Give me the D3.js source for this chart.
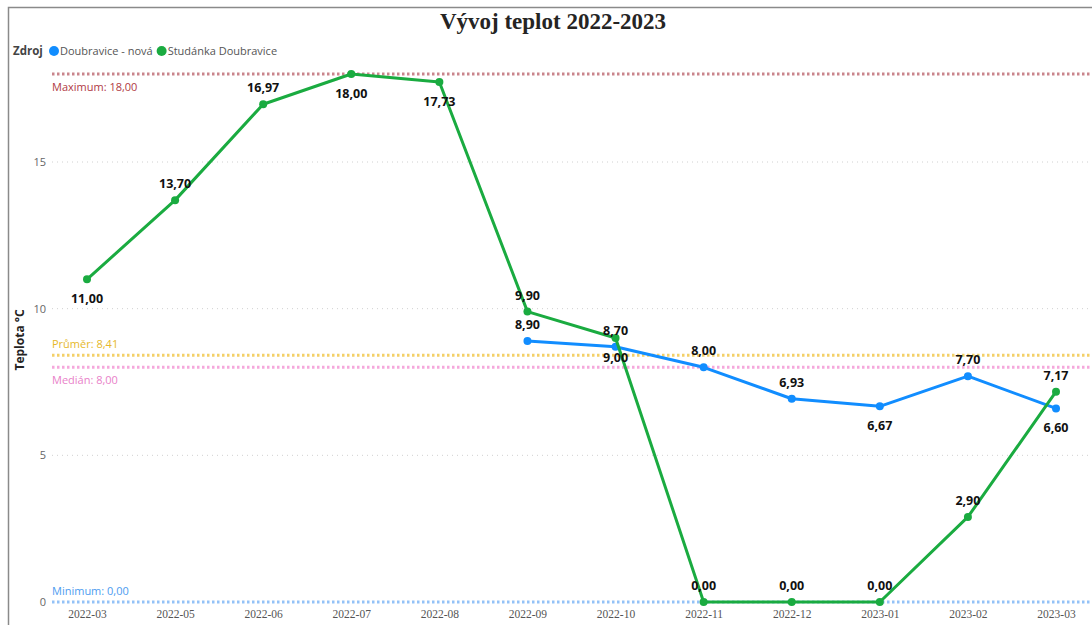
<!DOCTYPE html>
<html>
<head>
<meta charset="utf-8">
<script src="https://cdn.jsdelivr.net/npm/d3@7"></script>
<style>
  body { margin: 0; background: #fff; }
  svg { display: block; }
</style>
</head>
<body>
<div id="chart"></div>
<script>
const width = 1092;
const height = 625;

const months = ['2022-03', '2022-05', '2022-06', '2022-07', '2022-08', '2022-09',
  '2022-10', '2022-11', '2022-12', '2023-01', '2023-02', '2023-03'];

// null = no measurement that month
const doubravice = [null, null, null, null, null, 8.90, 8.70, 8.00, 6.93, 6.67, 7.70, 6.60];
const studanka = [11.00, 13.70, 16.97, 18.00, 17.73, 9.90, 9.00, 0, 0, 0, 2.90, 7.17];

// label placement: 1 = above, -1 = below
const doubraviceLabelPos = [0, 0, 0, 0, 0, 1, 1, 1, 1, -1, 1, -1];
const studankaLabelPos = [-1, 1, 1, -1, -1, 1, -1, 1, 1, 1, 1, 1];

const yTicks = [0, 5, 10, 15];

const refLines = [
  {name: 'Maximum', value: 18.00, color: '#c9858c', text: '#b03a44', pos: -1},
  {name: 'Průměr', value: 8.41, color: '#f3d068', text: '#e6b82a', pos: 1},
  {name: 'Medián', value: 8.00, color: '#f5a8dc', text: '#e97fc9', pos: -1},
  {name: 'Minimum', value: 0.00, color: '#93c2f7', text: '#4d9cf0', pos: 1}
];

const series = [
  {name: 'Doubravice - nová', values: doubravice, pos: doubraviceLabelPos, color: '#118dff'},
  {name: 'Studánka Doubravice', values: studanka, pos: studankaLabelPos, color: '#1aab40'}
];

const fmt = v => d3.format('.2f')(v).replace('.', ',');

const svg = d3.select('#chart')
  .append('svg')
  .attr('width', width)
  .attr('height', height)
  .style('font-family', '"Open Sans", sans-serif');

// frame
svg.append('rect')
  .attr('x', 8.5).attr('y', 7.5)
  .attr('width', width + 20).attr('height', height + 20)
  .attr('fill', 'none')
  .attr('stroke', '#8a8a8a')
  .attr('stroke-width', 1.5);

svg.append('text')
  .attr('x', 553).attr('y', 29)
  .attr('text-anchor', 'middle')
  .style('font-family', '"Liberation Serif", serif')
  .style('font-weight', 'bold')
  .style('font-size', '23px')
  .style('fill', '#252423')
  .text('Vývoj teplot 2022-2023');

// legend
const legend = svg.append('g').attr('transform', 'translate(13, 55)');
legend.append('text')
  .attr('x', 0).attr('y', 0)
  .style('font-size', '11.5px')
  .style('font-weight', 'bold')
  .style('fill', '#444')
  .text('Zdroj');
let lx = 36;
series.forEach(s => {
  legend.append('circle').attr('cx', lx + 5).attr('cy', -4).attr('r', 5).attr('fill', s.color);
  const t = legend.append('text')
    .attr('x', lx + 11).attr('y', 0)
    .style('font-size', '11px')
    .style('fill', '#555')
    .text(s.name);
  lx += 11 + t.node().getComputedTextLength() + 4;
});

const x = d3.scalePoint()
  .domain(months)
  .range([87, 1056]);

const y = d3.scaleLinear()
  .domain([0, 18])
  .range([602, 74]);

// gridlines
svg.append('g')
  .selectAll('line')
  .data(yTicks.filter(d => d > 0))
  .enter()
  .append('line')
  .attr('x1', 52).attr('x2', width)
  .attr('y1', d => y(d)).attr('y2', d => y(d))
  .attr('stroke', '#d0d0d0')
  .attr('stroke-dasharray', '1,4');

// y axis
const yAxis = svg.append('g')
  .attr('transform', 'translate(46, 0)')
  .call(d3.axisLeft(y).tickValues(yTicks).tickSize(0).tickPadding(0));
yAxis.select('.domain').remove();
yAxis.selectAll('text')
  .style('font-family', '"Open Sans", sans-serif')
  .style('font-size', '11px')
  .style('fill', '#666');

svg.append('text')
  .attr('transform', 'translate(24, 340) rotate(-90)')
  .attr('text-anchor', 'middle')
  .style('font-size', '12px')
  .style('font-weight', 'bold')
  .style('fill', '#252423')
  .text('Teplota °C');

// x axis
const xAxis = svg.append('g')
  .attr('transform', 'translate(0, 606)')
  .call(d3.axisBottom(x).tickSize(0).tickPadding(4));
xAxis.select('.domain').remove();
xAxis.selectAll('text')
  .style('font-family', '"Liberation Serif", serif')
  .style('font-size', '11.5px')
  .style('fill', '#555');

// reference lines
const refs = svg.append('g')
  .selectAll('g')
  .data(refLines)
  .enter()
  .append('g');
refs.append('line')
  .attr('x1', 52).attr('x2', width)
  .attr('y1', d => y(d.value)).attr('y2', d => y(d.value))
  .attr('stroke', d => d.color)
  .attr('stroke-width', 3)
  .attr('stroke-dasharray', '2.5,2.5');
refs.append('text')
  .attr('x', 52)
  .attr('y', d => y(d.value) + (d.pos > 0 ? -7 : 17))
  .style('font-size', '11px')
  .style('fill', d => d.text)
  .text(d => `${d.name}: ${fmt(d.value)}`);

// lines and points
const line = d3.line()
  .defined(d => d.v !== null)
  .x(d => x(d.m))
  .y(d => y(d.v));

series.forEach(s => {
  const pts = months.map((m, i) => ({m: m, v: s.values[i], p: s.pos[i]}));
  const g = svg.append('g');
  g.append('path')
    .datum(pts)
    .attr('d', line)
    .attr('fill', 'none')
    .attr('stroke', s.color)
    .attr('stroke-width', 3)
    .attr('stroke-linejoin', 'round');
  g.selectAll('circle')
    .data(pts.filter(d => d.v !== null))
    .enter()
    .append('circle')
    .attr('cx', d => x(d.m))
    .attr('cy', d => y(d.v))
    .attr('r', 4)
    .attr('fill', s.color);
  s.points = pts;
});

// data labels on top
series.forEach(s => {
  svg.append('g')
    .selectAll('text')
    .data(s.points.filter(d => d.v !== null))
    .enter()
    .append('text')
    .attr('x', d => x(d.m))
    .attr('y', d => y(d.v) + (d.p > 0 ? -12 : 24))
    .attr('text-anchor', 'middle')
    .style('font-size', '12.5px')
    .style('font-weight', 'bold')
    .style('fill', '#111')
    .text(d => fmt(d.v));
});
</script>
</body>
</html>
